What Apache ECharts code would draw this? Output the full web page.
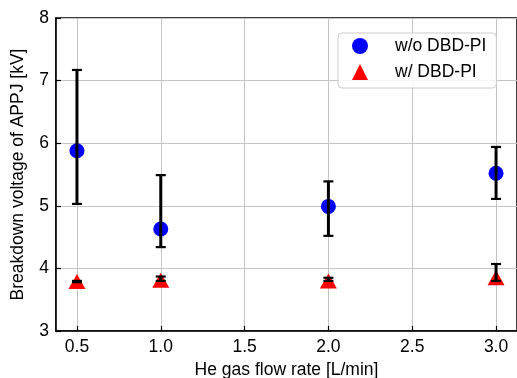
<!DOCTYPE html>
<html>
<head>
<meta charset="utf-8">
<script src="https://cdn.jsdelivr.net/npm/echarts@6/dist/echarts.min.js"></script>
<style>
  html, body { margin: 0; padding: 0; background: #fff; }
  #chart { width: 517px; height: 378px; }
</style>
</head>
<body>
<div id="chart"></div>
<script>
// He gas flow rate [L/min]
const flowRates = [0.5, 1.0, 2.0, 3.0];

// w/o DBD-PI
const woMean = [5.88, 4.63, 4.99, 5.52];
const woLow = [5.03, 4.34, 4.52, 5.11];
const woHigh = [7.17, 5.49, 5.39, 5.94];

// w/ DBD-PI
const wMean = [3.79, 3.81, 3.80, 3.85];
const wLow = [3.78, 3.80, 3.80, 3.80];
const wHigh = [3.80, 3.87, 3.85, 4.07];

const FONT = "Liberation Sans";
const FS = 17.5;

const chart = echarts.init(document.getElementById("chart"));

// 에러바: 세로선 + 위/아래 캡
const errorBarItem = (params, api) => {
  const x = api.value(0);
  const lo = api.coord([x, api.value(1)]);
  const hi = api.coord([x, api.value(2)]);
  const cap = 5;
  const style = { stroke: "#000", lineWidth: 2.2 };
  return {
    type: "group",
    children: [
      { type: "line", shape: { x1: lo[0], y1: lo[1], x2: hi[0], y2: hi[1] }, style: { stroke: "#000", lineWidth: 3 } },
      { type: "line", shape: { x1: hi[0] - cap, y1: hi[1], x2: hi[0] + cap, y2: hi[1] }, style },
      { type: "line", shape: { x1: lo[0] - cap, y1: lo[1], x2: lo[0] + cap, y2: lo[1] }, style },
    ],
  };
};

const pairs = (ys) => flowRates.map((x, i) => [x, ys[i]]);
const bars = (lo, hi) => flowRates.map((x, i) => [x, lo[i], hi[i]]);

const option = {
  animation: false,
  textStyle: { fontFamily: FONT },
  grid: {
    left: 56, right: 0, top: 18, bottom: 47,
    outerBoundsMode: "none",
    show: true, borderColor: "#000", borderWidth: 1.5,
  },
  legend: {
    data: ["w/o DBD-PI", "w/ DBD-PI"],
    orient: "vertical",
    left: 338, top: 33,
    padding: [4, 10, 7, 14],
    itemWidth: 16, itemHeight: 16, itemGap: 8,
    textStyle: { fontFamily: FONT, fontSize: FS, color: "#000", padding: [0, 0, 0, 22] },
    backgroundColor: "rgba(255,255,255,0.85)",
    borderColor: "#cccccc", borderWidth: 1, borderRadius: 4,
  },
  xAxis: {
    type: "value",
    min: 0.375, max: 3.125,
    splitNumber: 5,
    name: "He gas flow rate [L/min]",
    nameLocation: "middle",
    nameGap: 28,
    nameTextStyle: { fontFamily: FONT, fontSize: FS, color: "#000" },
    axisLine: { lineStyle: { color: "#000", width: 1.5 } },
    axisTick: { inside: true, length: 5, lineStyle: { color: "#000", width: 1.2 } },
    axisLabel: {
      fontFamily: FONT, fontSize: FS, color: "#000", margin: 7,
      showMinLabel: false, showMaxLabel: false,
      formatter: (v) => (Math.abs(v * 2 - Math.round(v * 2)) < 1e-6 ? v.toFixed(1) : ""),
    },
    splitLine: { show: true, lineStyle: { color: "#c4c4c4", width: 1 } },
  },
  yAxis: {
    type: "value",
    min: 3, max: 8, interval: 1,
    name: "Breakdown voltage of APPJ [kV]",
    nameLocation: "middle",
    nameGap: 29,
    nameTextStyle: { fontFamily: FONT, fontSize: FS, color: "#000" },
    axisLine: { lineStyle: { color: "#000", width: 1.5 } },
    axisTick: { inside: true, length: 5, lineStyle: { color: "#000", width: 1.2 } },
    axisLabel: { fontFamily: FONT, fontSize: FS, color: "#000", margin: 7 },
    splitLine: { show: true, lineStyle: { color: "#c4c4c4", width: 1 } },
  },
  series: [
    {
      name: "w/o DBD-PI",
      type: "scatter",
      symbol: "circle",
      symbolSize: 15,
      itemStyle: { color: "#0000ff", opacity: 1 },
      data: pairs(woMean),
      z: 3,
    },
    {
      name: "w/ DBD-PI",
      type: "scatter",
      symbol: "triangle",
      symbolSize: [17, 15],
      itemStyle: { color: "#ff0000", opacity: 1 },
      data: pairs(wMean),
      z: 3,
    },
    {
      name: "err-wo",
      type: "custom",
      renderItem: errorBarItem,
      data: bars(woLow, woHigh),
      z: 5,
    },
    {
      name: "err-w",
      type: "custom",
      renderItem: errorBarItem,
      data: bars(wLow, wHigh),
      z: 5,
    },
  ],
};

chart.setOption(option);
</script>
</body>
</html>
